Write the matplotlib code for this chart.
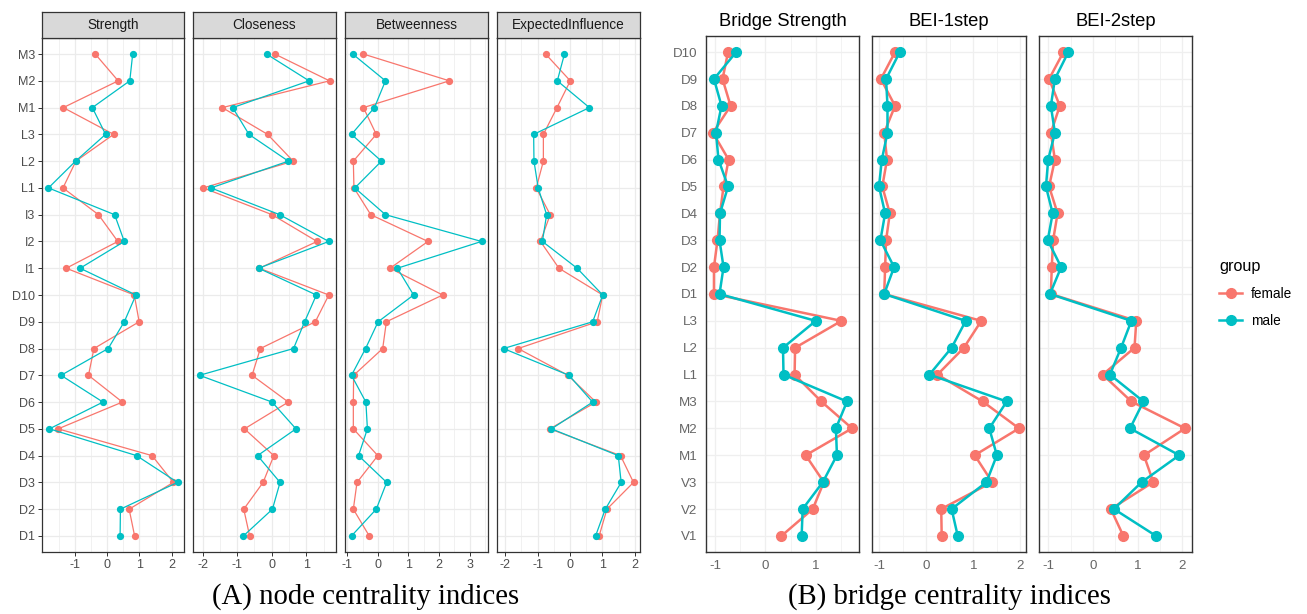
import matplotlib
matplotlib.use('Agg')
import matplotlib.pyplot as plt
from matplotlib.lines import Line2D
from matplotlib.ticker import MultipleLocator
import numpy as np

W, H, DPI = 1307, 614, 100
FEMALE = '#F8766D'
MALE = '#00BFC4'
SANS = ['Liberation Sans', 'DejaVu Sans']
SERIF = ['Liberation Serif', 'DejaVu Serif']
plt.rcParams['font.family'] = SANS
plt.rcParams['axes.unicode_minus'] = False

# ---------------- data: (A) node centrality ----------------
node_items = ["M3", "M2", "M1", "L3", "L2", "L1", "I3", "I2", "I1",
              "D10", "D9", "D8", "D7", "D6", "D5", "D4", "D3", "D2", "D1"]
node_measures = ["Strength", "Closeness", "Betweenness", "ExpectedInfluence"]
node_ticks = [[-1, 0, 1, 2], [-2, -1, 0, 1], [-1, 0, 1, 2, 3], [-2, -1, 0, 1, 2]]

strength_female = [-0.37, 0.34, -1.36, 0.20, -0.97, -1.37, -0.27, 0.33, -1.27,
                   0.84, 0.99, -0.41, -0.58, 0.47, -1.52, 1.39, 2.05, 0.68, 0.85]
strength_male = [0.79, 0.70, -0.46, -0.05, -0.98, -1.82, 0.23, 0.53, -0.84,
                 0.89, 0.53, 0.03, -1.43, -0.13, -1.79, 0.91, 2.18, 0.41, 0.40]

closeness_female = [0.09, 1.67, -1.43, -0.12, 0.62, -1.98, 0.01, 1.31, -0.36,
                    1.65, 1.26, -0.33, -0.57, 0.48, -0.79, 0.06, -0.25, -0.81, -0.64]
closeness_male = [-0.15, 1.08, -1.13, -0.66, 0.48, -1.76, 0.23, 1.65, -0.38,
                  1.29, 0.95, 0.63, -2.09, 0.01, 0.70, -0.41, 0.24, 0.02, -0.82]

betweenness_female = [-0.47, 2.34, -0.47, -0.05, -0.80, -0.78, -0.23, 1.64, 0.40,
                      2.12, 0.28, 0.16, -0.79, -0.80, -0.80, 0.00, -0.68, -0.80, -0.28]
betweenness_male = [-0.82, 0.25, -0.11, -0.86, 0.12, -0.75, 0.25, 3.39, 0.64,
                    1.17, 0.01, -0.40, -0.86, -0.39, -0.34, -0.63, 0.29, -0.05, -0.86]

ei_female = [-0.75, 0.01, -0.40, -0.82, -0.82, -1.04, -0.61, -0.91, -0.34,
             1.01, 0.84, -1.60, -0.06, 0.80, -0.62, 1.56, 1.96, 1.14, 0.90]
ei_male = [-0.17, -0.39, 0.60, -1.12, -1.11, -0.98, -0.72, -0.85, 0.22,
           1.01, 0.70, -2.05, -0.03, 0.70, -0.57, 1.49, 1.58, 1.09, 0.79]

# ---------------- data: (B) bridge centrality ----------------
bridge_items = ["D10", "D9", "D8", "D7", "D6", "D5", "D4", "D3", "D2", "D1",
                "L3", "L2", "L1", "M3", "M2", "M1", "V3", "V2", "V1"]
bridge_measures = ["Bridge Strength", "BEI-1step", "BEI-2step"]
bridge_ticks = [[-1, 0, 1], [-1, 0, 1, 2], [-1, 0, 1, 2]]

bs_female = [-0.74, -0.85, -0.69, -1.04, -0.73, -0.83, -0.90, -0.95, -1.02, -1.02,
             1.51, 0.59, 0.58, 1.11, 1.72, 0.80, 1.16, 0.94, 0.32]
bs_male = [-0.58, -1.02, -0.87, -0.98, -0.93, -0.74, -0.90, -0.91, -0.83, -0.91,
           1.00, 0.35, 0.36, 1.62, 1.40, 1.42, 1.14, 0.74, 0.72]

bei1_female = [-0.66, -0.96, -0.66, -0.89, -0.83, -0.93, -0.77, -0.85, -0.87, -0.89,
               1.17, 0.80, 0.24, 1.20, 1.97, 1.03, 1.40, 0.32, 0.33]
bei1_male = [-0.56, -0.85, -0.82, -0.82, -0.94, -1.00, -0.87, -0.97, -0.68, -0.89,
             0.84, 0.54, 0.07, 1.71, 1.34, 1.50, 1.28, 0.54, 0.67]

bei2_female = [-0.66, -0.98, -0.74, -0.94, -0.85, -0.98, -0.79, -0.89, -0.92, -0.94,
               0.97, 0.93, 0.22, 0.86, 2.06, 1.14, 1.35, 0.40, 0.68]
bei2_male = [-0.55, -0.85, -0.94, -0.85, -1.00, -1.05, -0.90, -1.01, -0.71, -0.96,
             0.86, 0.63, 0.38, 1.13, 0.83, 1.93, 1.09, 0.47, 1.41]

groups = ["female", "male"]

node_data = [(strength_female, strength_male), (closeness_female, closeness_male),
             (betweenness_female, betweenness_male), (ei_female, ei_male)]
bridge_data = [(bs_female, bs_male), (bei1_female, bei1_male), (bei2_female, bei2_male)]

# ---------------- layout helpers ----------------
fig = plt.figure(figsize=(W / DPI, H / DPI), dpi=DPI)


def px_axes(left, top, right, bottom, **kw):
    return fig.add_axes([left / W, 1 - bottom / H, (right - left) / W, (bottom - top) / H], **kw)


def style_panel(ax, n, ticks, grid_color, border_lw):
    ax.set_ylim(n - 1 + 0.6, -0.6)
    ax.margins(x=0.05)
    ax.autoscale_view()
    lo, hi = ax.get_xlim()
    ax.set_yticks(range(n))
    ax.set_xticks(ticks)
    minors = np.arange(min(ticks) - 0.5, max(ticks) + 1.0, 1.0)
    ax.set_xticks([m for m in minors if lo <= m <= hi], minor=True)
    ax.set_xlim(lo, hi)
    ax.grid(True, which='major', color=grid_color, lw=0.9, zorder=0)
    ax.grid(True, which='minor', axis='x', color=grid_color, lw=0.5, zorder=0)
    ax.set_axisbelow(True)
    for s in ax.spines.values():
        s.set_color('#333333')
        s.set_linewidth(border_lw)
    ax.tick_params(which='minor', length=0)


# ---------------- (A) node centrality panels ----------------
a_x = [(42, 184), (193, 336), (345, 488), (497, 640)]
A_TOP, A_BOT, STRIP_TOP = 38, 552, 12
yA = np.arange(len(node_items))
for k, ((l, r), name, (fv, mv), tk) in enumerate(zip(a_x, node_measures, node_data, node_ticks)):
    ax = px_axes(l, A_TOP, r, A_BOT)
    ax.plot(fv, yA, color=FEMALE, lw=0.9, marker='o', ms=4.2, zorder=3)
    ax.plot(mv, yA, color=MALE, lw=0.9, marker='o', ms=4.2, zorder=4)
    style_panel(ax, len(node_items), tk, '#EBEBEB', 0.9)
    ax.tick_params(which='major', length=3, width=0.7, color='#333333',
                   labelcolor='#4D4D4D', labelsize=9, pad=2)
    if k == 0:
        ax.set_yticklabels(node_items)
    else:
        ax.set_yticklabels([])
        ax.tick_params(axis='y', length=0)
    st = px_axes(l, STRIP_TOP, r, A_TOP)
    st.set_facecolor('#D9D9D9')
    st.set_xticks([]); st.set_yticks([])
    for s in st.spines.values():
        s.set_color('#333333'); s.set_linewidth(0.9)
    st.text(0.5, 0.5, name, ha='center', va='center', fontsize=9.8,
            color='#1A1A1A', transform=st.transAxes)

# ---------------- (B) bridge centrality panels ----------------
b_x = [(706, 859), (872, 1026), (1039, 1192)]
B_TOP, B_BOT = 36, 552
yB = np.arange(len(bridge_items))
lines = []
for k, ((l, r), name, (fv, mv), tk) in enumerate(zip(b_x, bridge_measures, bridge_data, bridge_ticks)):
    ax = px_axes(l, B_TOP, r, B_BOT)
    lf, = ax.plot(fv, yB, color=FEMALE, lw=1.8, marker='o', ms=7, zorder=3)
    lm, = ax.plot(mv, yB, color=MALE, lw=1.8, marker='o', ms=7, zorder=4)
    if k == 0:
        lines = [lf, lm]
    style_panel(ax, len(bridge_items), tk, '#EFEFEF', 1.0)
    ax.tick_params(which='major', length=0, labelcolor='#666666', labelsize=9.6, pad=6)
    if k == 0:
        ax.set_yticklabels(bridge_items)
    else:
        ax.set_yticklabels([])
    ax.set_title(name, fontsize=13.2, color='black', pad=7)

leg = fig.legend(lines, groups, title='group', loc='upper left',
                 bbox_to_anchor=(1207 / W, 1 - 247 / H), frameon=False,
                 fontsize=9.8, title_fontsize=11.7, handlelength=1.7,
                 labelspacing=0.95, handletextpad=0.6, alignment='left')

# ---------------- captions ----------------
fig.text(366 / W, 1 - 597 / H, '(A) node centrality indices', ha='center', va='center',
         fontsize=20.7, family=SERIF)
fig.text(949 / W, 1 - 597 / H, '(B) bridge centrality indices', ha='center', va='center',
         fontsize=20.7, family=SERIF)

fig.savefig('out.png', dpi=DPI, facecolor='white')
